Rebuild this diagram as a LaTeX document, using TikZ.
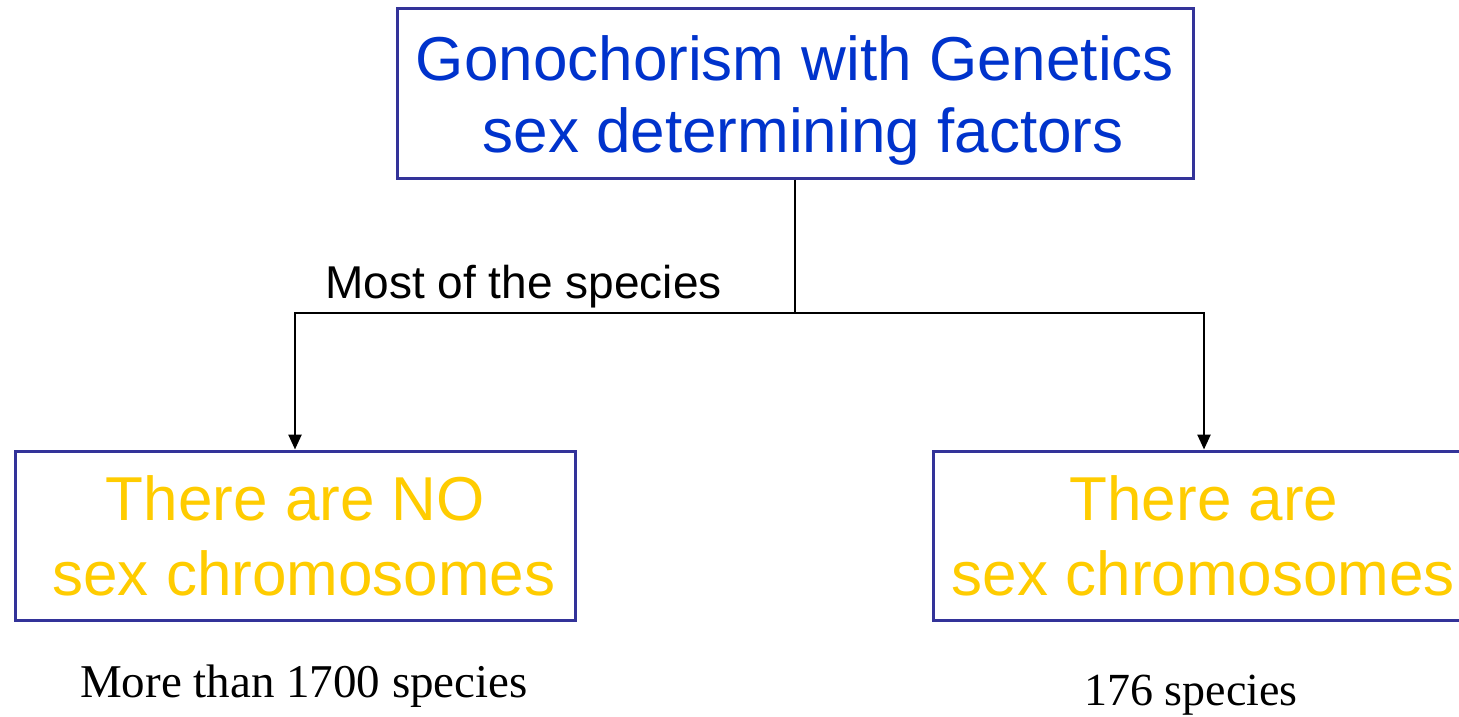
\documentclass[tikz,border=0pt]{standalone}
\usepackage{fontspec}
\setmainfont{Liberation Serif}
\setsansfont{Liberation Sans}
\usetikzlibrary{arrows.meta}
\definecolor{boxblue}{HTML}{333399}
\definecolor{titleblue}{HTML}{0033CC}
\definecolor{gold}{HTML}{FFCC00}
\begin{document}
\begin{tikzpicture}[x=1pt,y=-1pt,
  box/.style={draw=boxblue, line width=3pt, rectangle, inner sep=0pt},
  boxtext/.style={anchor=base, inner sep=0pt, font=\sffamily\fontsize{62}{72}\selectfont},
  conn/.style={draw=black, line width=2.5pt},
  arr/.style={conn, -{Triangle[length=15pt,width=13pt]}},
  note/.style={anchor=base, inner sep=0pt}]
\useasboundingbox (0,0) rectangle (1459,716);
\clip (0,0) rectangle (1459,716);
\fill[white] (0,0) rectangle (1459,716);
% boxes
\node[box, minimum width=796pt, minimum height=170pt] (top) at (795,93) {};
\node[box, minimum width=560pt, minimum height=169pt] (left) at (295,535.5) {};
\node[box, minimum width=542pt, minimum height=169pt] (right) at (1204,535.5) {};
% box texts
\node[boxtext, text=titleblue] (t1) at (795,80) {Gonochorism with Genetics};
\node[boxtext, text=titleblue] (t2) at (803,152) {sex determining factors};
\node[boxtext, text=gold] (l1) at (295.5,520) {There are NO};
\node[boxtext, text=gold] (l2) at (304,595) {sex chromosomes};
\node[boxtext, text=gold] (r1) at (1204,520) {There are};
\node[boxtext, text=gold] (r2) at (1203.5,595) {sex chromosomes};
% connectors
\coordinate (j) at (top.south |- 0,313);
\draw[conn] (top.south) -- (j);
\draw[arr] (j) -| (left.north);
\draw[arr] (j) -| (right.north);
% labels
\node[note, font=\sffamily\fontsize{46}{52}\selectfont] (most) at (523.5,298) {Most of the species};
\node[note, font=\rmfamily\fontsize{47}{54}\selectfont] (n1) at (304,697) {More than 1700 species};
\node[note, font=\rmfamily\fontsize{46}{54}\selectfont] (n2) at (1191,705) {176 species};
\end{tikzpicture}
\end{document}
